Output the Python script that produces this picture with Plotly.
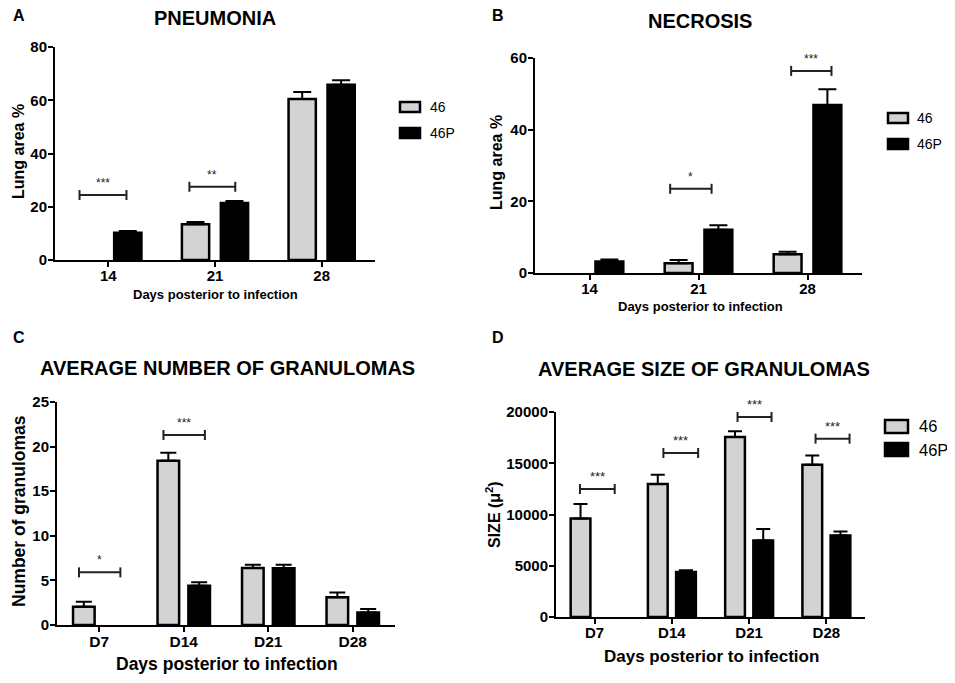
import plotly.graph_objects as go

# the page body adds an 8px margin on each side, so the figure is drawn
# 8px in from the corner and kept small enough to avoid scrollbars
W, H = 955, 683
PAD = 8
FONT = "Liberation Sans"

# ---- data ----
groups = ["46", "46P"]

days_ab = ["14", "21", "28"]
pneu_46 = [None, 13.4, 60.5]
pneu_46_err = [0, 0.9, 2.6]
pneu_46p = [10.2, 21.4, 65.8]
pneu_46p_err = [0.7, 0.8, 1.7]

necro_46 = [None, 2.7, 5.2]
necro_46_err = [0, 0.9, 0.7]
necro_46p = [3.2, 12.1, 46.9]
necro_46p_err = [0.6, 1.2, 4.4]

days_cd = ["D7", "D14", "D21", "D28"]
num_46 = [2.05, 18.4, 6.4, 3.1]
num_46_err = [0.55, 0.9, 0.35, 0.55]
num_46p = [None, 4.4, 6.35, 1.4]
num_46p_err = [0, 0.4, 0.4, 0.4]

size_46 = [9620, 12980, 17560, 14860]
size_46_err = [1400, 900, 550, 900]
size_46p = [None, 4390, 7475, 7960]
size_46p_err = [0, 160, 1100, 390]

# significance brackets: (start, end) in category units, height, label
sig_a = [(-0.27, 0.17, 24.4, "***"), (0.76, 1.19, 27.5, "**")]
sig_b = [(0.74, 1.12, 23.5, "*"), (1.85, 2.22, 56.4, "***")]
sig_c = [(-0.24, 0.25, 5.9, "*"), (0.76, 1.25, 21.3, "***")]
sig_d = [(-0.19, 0.26, 12490, "***"), (0.89, 1.34, 16000, "***"),
         (1.85, 2.29, 19510, "***"), (2.86, 3.30, 17400, "***")]

FILLS = ["#d3d3d3", "black"]
FW, FH = W - 2 * PAD, H - 2 * PAD


def fx(p):
    return (p - PAD) / FW


def fy(p):
    return 1 - (p - PAD) / FH


def txt(text, x, y, size, bold=True, angle=0, xanchor="center"):
    return dict(x=fx(x), y=fy(y), xref="paper", yref="paper",
                text="<b>%s</b>" % text if bold else text,
                textangle=angle, showarrow=False, xanchor=xanchor, yanchor="middle",
                font=dict(family=FONT, size=size, color="black"))


panels = [
    dict(n="", cats=days_ab, vals=[(pneu_46, pneu_46_err), (pneu_46p, pneu_46p_err)],
         xdom=(55, 375), ydom=(260, 47), yrange=[0, 80], dtick=20, sig=sig_a,
         letter=("A", 19, 16), title=("PNEUMONIA", 215, 18, 20),
         ytitle=("Lung area %", 18, 152, 16), xtitle=("Days posterior to infection", 215, 294, 13),
         xtick=15, legend=(400, 420, [(102, 112), (128, 138)], 428, 14), starsize=12, cap=9),
    dict(n="2", cats=days_ab, vals=[(necro_46, necro_46_err), (necro_46p, necro_46p_err)],
         xdom=(535, 862), ydom=(273, 58), yrange=[0, 60], dtick=20, sig=sig_b,
         letter=("B", 498, 16), title=("NECROSIS", 700, 21, 20),
         ytitle=("Lung area %", 496, 163, 16), xtitle=("Days posterior to infection", 700, 306, 13),
         xtick=15, legend=(888, 908, [(113, 123), (139, 149)], 915, 14), starsize=12, cap=9),
    dict(n="3", cats=days_cd, vals=[(num_46, num_46_err), (num_46p, num_46p_err)],
         xdom=(57, 395), ydom=(625, 402), yrange=[0, 25], dtick=5, sig=sig_c,
         letter=("C", 19, 338), title=("AVERAGE NUMBER OF GRANULOMAS", 227, 368, 20),
         ytitle=("Number of granulomas", 19, 511, 17.5), xtitle=("Days posterior to infection", 227, 664, 17.5),
         xtick=15.5, legend=None, starsize=12, cap=8),
    dict(n="4", cats=days_cd, vals=[(size_46, size_46_err), (size_46p, size_46p_err)],
         xdom=(556, 865), ydom=(617, 412), yrange=[0, 20000], dtick=5000, sig=sig_d,
         letter=("D", 498, 338), title=("AVERAGE SIZE OF GRANULOMAS", 704, 369, 20),
         ytitle=("SIZE (μ<sup>2</sup>)", 493, 515, 16), xtitle=("Days posterior to infection", 711, 656, 17),
         xtick=15, legend=(885, 908, [(420, 433), (443, 456)], 917, 16.5), starsize=13, cap=7),
]

fig = go.Figure()
shapes = []
annotations = []

for p in panels:
    xa, ya = "x" + p["n"], "y" + p["n"]
    for gi, (vals, err) in enumerate(p["vals"]):
        fig.add_trace(go.Bar(
            x=p["cats"], y=vals, name=groups[gi], xaxis=xa, yaxis=ya,
            marker=dict(color=FILLS[gi], line=dict(color="black", width=2.5)),
            error_y=dict(type="data", symmetric=False, array=err,
                         arrayminus=[0] * len(err), color="black",
                         thickness=2, width=p["cap"]),
            showlegend=False,
        ))

    axis_common = dict(showline=True, linecolor="black", linewidth=2, ticks="outside",
                       ticklen=5, tickwidth=2, tickcolor="black", showgrid=False,
                       zeroline=False, automargin=False)
    fig.update_layout(**{
        "xaxis" + p["n"]: dict(domain=[fx(p["xdom"][0]), fx(p["xdom"][1])], anchor=ya,
                               tickfont=dict(family=FONT, size=p["xtick"], color="black", weight="bold"),
                               ticklabelstandoff=-4, **axis_common),
        "yaxis" + p["n"]: dict(domain=[fy(p["ydom"][0]), fy(p["ydom"][1])], anchor=xa,
                               range=p["yrange"], dtick=p["dtick"], tickformat="d",
                               tickfont=dict(family=FONT, size=15, color="black", weight="bold"),
                               ticklabelstandoff=-2, **axis_common),
    })

    # significance brackets
    for x0, x1, yv, lab in p["sig"]:
        shapes.append(dict(type="line", xref=xa, yref=ya, x0=x0, x1=x1, y0=yv, y1=yv,
                           line=dict(color="#222", width=2)))
        for xe in (x0, x1):
            shapes.append(dict(type="line", xref=xa, yref=ya, ysizemode="pixel", yanchor=yv,
                               x0=xe, x1=xe, y0=-5, y1=5, line=dict(color="#222", width=2)))
        annotations.append(dict(x=(x0 + x1) / 2, y=yv, xref=xa, yref=ya, text=lab,
                                showarrow=False, xanchor="center", yanchor="bottom", yshift=3,
                                font=dict(family=FONT, size=p["starsize"], color="#222")))

    annotations.append(txt(p["letter"][0], p["letter"][1], p["letter"][2], 16))
    annotations.append(txt(*p["title"]))
    annotations.append(txt(*p["ytitle"], angle=-90))
    annotations.append(txt(*p["xtitle"]))

    # legend boxes
    if p["legend"]:
        bx0, bx1, rows, tx, ts = p["legend"]
        for gi, (r0, r1) in enumerate(rows):
            shapes.append(dict(type="rect", xref="paper", yref="paper",
                               x0=fx(bx0), x1=fx(bx1), y0=fy(r1), y1=fy(r0),
                               fillcolor=FILLS[gi], line=dict(color="black", width=2.5)))
            annotations.append(txt(groups[gi], tx, (r0 + r1) / 2, ts, bold=False, xanchor="left"))

fig.update_layout(
    width=FW, height=FH, autosize=False,
    margin=dict(l=0, r=0, t=0, b=0, autoexpand=False),
    paper_bgcolor="white", plot_bgcolor="white",
    barmode="group", bargap=0.27, bargroupgap=0.3,
    shapes=shapes, annotations=annotations,
)

fig.write_html("out.html")
